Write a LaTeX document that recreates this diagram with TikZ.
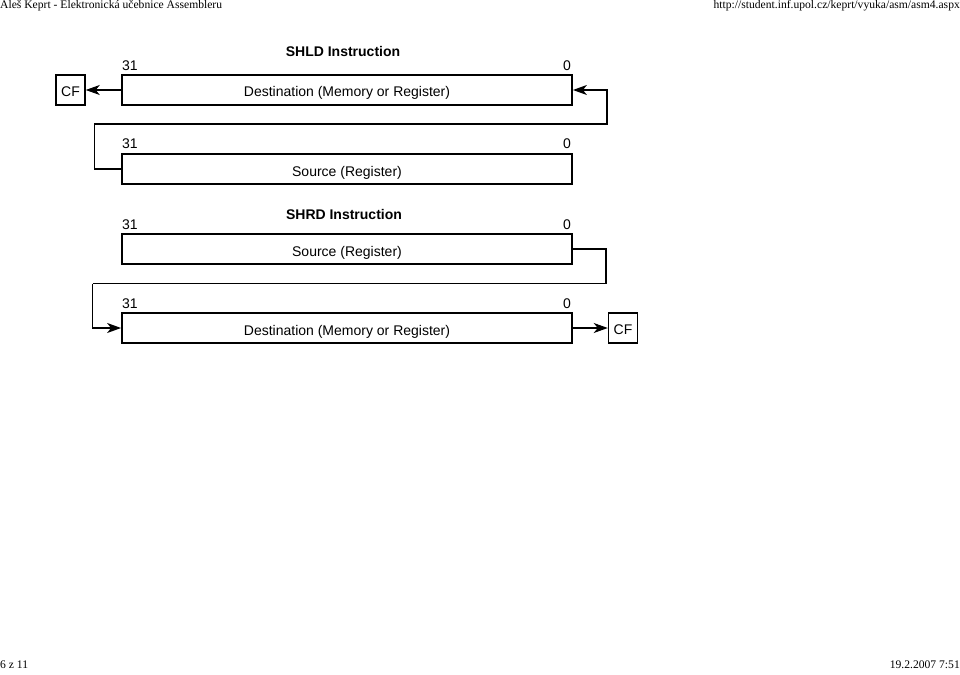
\documentclass[tikz,border=0pt]{standalone}
\usepackage{fontspec}
\setmainfont{Liberation Serif}
\newfontfamily\arialf{Liberation Sans}
\usetikzlibrary{arrows.meta}
\begin{document}
\begin{tikzpicture}[x=1pt,y=-1pt,
  regbox/.style={draw,line width=1.8pt,minimum width=450pt,minimum height=30pt,inner sep=0pt,text height=14pt,text depth=0pt,font=\arialf\fontsize{14}{16}\selectfont},
  cfbox/.style={draw,line width=1.5pt,minimum width=29pt,minimum height=30pt,inner sep=0pt,text height=13pt,text depth=0pt,font=\arialf\fontsize{14}{16}\selectfont},
  bitlbl/.style={inner sep=0pt,anchor=base,font=\arialf\fontsize{14}{16}\selectfont},
  titlelbl/.style={inner sep=0pt,anchor=base,font=\arialf\bfseries\fontsize{14}{16}\selectfont},
  hdr/.style={inner sep=0pt,anchor=base west,font=\fontsize{11.6}{13}\selectfont},
  conn/.style={line width=1.1pt},
  arr/.style={conn,-{Stealth[length=14pt,width=10pt,inset=4pt,fill=black]}}
]
\useasboundingbox (0,0) rectangle (960,674);
% header / footer
\node[hdr] (h1) at (0,8.5) {Aleš Keprt - Elektronická učebnice Assembleru};
\node[hdr,anchor=base east] (h2) at (960,8.5) {http://student.inf.upol.cz/keprt/vyuka/asm/asm4.aspx};
\node[hdr] (f1) at (0,668) {6 z 11};
\node[hdr,anchor=base east] (f2) at (960,668) {19.2.2007 7:51};

% SHLD
\node[titlelbl] (t1) at (343,57) {SHLD Instruction};
\node[regbox] (d1) at (347,90) {Destination (Memory or Register)};
\node[bitlbl,anchor=base west] (b1a) at (122,70.5) {31};
\node[bitlbl] (b1b) at (567,70.5) {0};
\node[cfbox] (cf1) at (70.5,90) {CF};
\node[regbox] (s1) at (347,169) {Source (Register)};
\node[bitlbl,anchor=base west] (b2a) at (122,148.5) {31};
\node[bitlbl] (b2b) at (567,148.5) {0};
\coordinate (l1) at (94.5,124);
\coordinate (r1) at (607,124);
\draw[arr] (d1.west) -- (cf1.east);
\draw[arr] (s1.west) -| (l1) -- (r1) |- (d1.east);

% SHRD
\node[titlelbl] (t2) at (344,219) {SHRD Instruction};
\node[regbox] (s2) at (347,249) {Source (Register)};
\node[bitlbl,anchor=base west] (b3a) at (122,229.5) {31};
\node[bitlbl] (b3b) at (567,229.5) {0};
\node[regbox] (d2) at (347,328) {Destination (Memory or Register)};
\node[bitlbl,anchor=base west] (b4a) at (122,308.5) {31};
\node[bitlbl] (b4b) at (567,308.5) {0};
\node[cfbox] (cf2) at (623,328) {CF};
\coordinate (r2) at (606,283.5);
\coordinate (l2) at (92.5,283.5);
\draw[conn] (s2.east) -| (r2) -- (l2);
\draw[arr] (l2) |- (d2.west);
\draw[arr] (d2.east) -- (cf2.west);
\end{tikzpicture}
\end{document}
